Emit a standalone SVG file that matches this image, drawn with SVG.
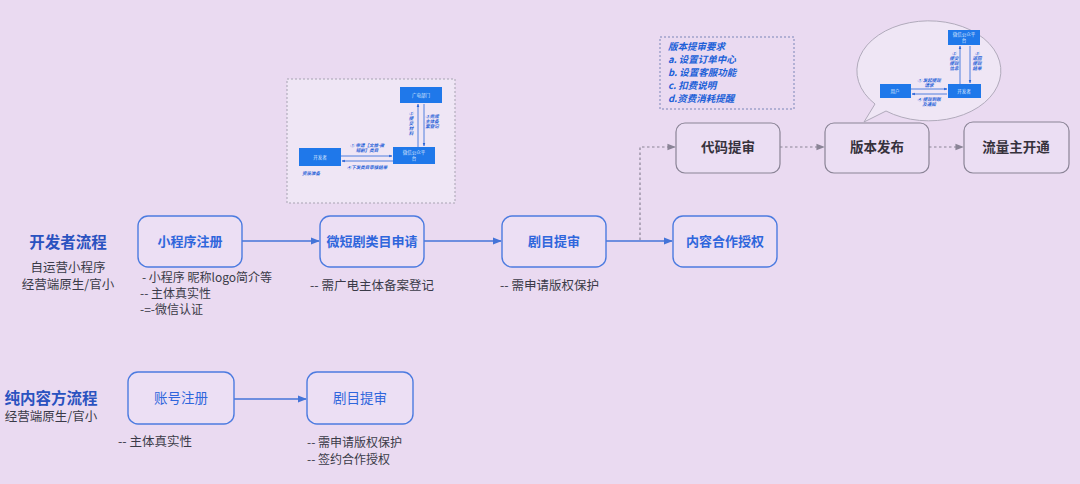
<svg xmlns="http://www.w3.org/2000/svg" width="1080" height="484" viewBox="0 0 1080 484">
<style>
.bg{fill:#eadaf1}
.bbox{fill:#ecdff4;stroke:#4c7be0;stroke-width:1.4}
.gbox{fill:#ebdef3;stroke:#8a8496;stroke-width:1.2}
.bt{font-family:"Noto Sans CJK SC","Noto Sans",sans-serif;font-size:13px;font-weight:700;fill:#2f66dc;text-anchor:middle}
.bt2{font-family:"Noto Sans CJK SC","Noto Sans",sans-serif;font-size:13.5px;fill:#2f66dc;text-anchor:middle}
.gt{font-family:"Noto Sans CJK SC","Noto Sans",sans-serif;font-size:13.5px;font-weight:700;fill:#36323c;text-anchor:middle}
.note{font-family:"Noto Sans CJK SC","Noto Sans",sans-serif;font-size:12.5px;fill:#3a3a48}
.note2{font-family:"Noto Sans CJK SC","Noto Sans",sans-serif;font-size:12px;fill:#3a3a48}
.title{font-family:"Noto Sans CJK SC","Noto Sans",sans-serif;font-size:15.5px;font-weight:700;fill:#2a52c0;text-anchor:middle}
.sub{font-family:"Noto Sans CJK SC","Noto Sans",sans-serif;font-size:12.5px;fill:#3a3a48;text-anchor:middle}
.line{stroke:#4474d8;stroke-width:1.3;fill:none}
.dline{stroke:#8a8496;stroke-width:1.2;stroke-dasharray:2.5 2.5;fill:none}
.ibox{fill:#1f78ea}
.it{font-family:"Noto Sans CJK SC","Noto Sans",sans-serif;font-size:4.5px;fill:#dfe9ff;text-anchor:middle}
.il{font-family:"Noto Sans CJK SC","Noto Sans",sans-serif;font-size:4.5px;font-weight:700;font-style:italic;fill:#2a64d8;text-anchor:middle}
.iline{stroke:#2a64d8;stroke-width:0.8;fill:none}
.req{font-family:"Noto Sans CJK SC","Noto Sans",sans-serif;font-size:9.5px;font-weight:700;font-style:italic;fill:#2060d8}
</style>
<defs>
<marker id="ab" viewBox="0 0 10 10" refX="9" refY="5" markerWidth="7" markerHeight="7" orient="auto"><path d="M0,1 L10,5 L0,9 Z" fill="#4474d8"/></marker>
<marker id="ag" viewBox="0 0 10 10" refX="9" refY="5" markerWidth="7" markerHeight="7" orient="auto"><path d="M0,1 L10,5 L0,9 Z" fill="#8a8496"/></marker>
<marker id="ai" viewBox="0 0 10 10" refX="9" refY="5" markerWidth="4" markerHeight="4" orient="auto"><path d="M0,1 L10,5 L0,9 Z" fill="#2a64d8"/></marker>
</defs>
<rect class="bg" x="0" y="0" width="1080" height="484"/>

<g id="labels">
<text class="title" x="68" y="248">开发者流程</text>
<text class="sub" x="68" y="272">自运营小程序</text>
<text class="sub" x="68" y="289">经营端原生/官小</text>
<text class="title" x="51" y="404">纯内容方流程</text>
<text class="sub" x="51" y="421">经营端原生/官小</text>
</g>

<g id="connectors">
<line class="line" x1="242" y1="241" x2="319" y2="241" marker-end="url(#ab)"/>
<line class="line" x1="424" y1="241" x2="501" y2="241" marker-end="url(#ab)"/>
<line class="line" x1="606" y1="241" x2="672" y2="241" marker-end="url(#ab)"/>
<polyline class="dline" points="640,240 640,147 675,147" marker-end="url(#ag)"/>
<line class="dline" x1="780" y1="147" x2="824" y2="147" marker-end="url(#ag)"/>
<line class="dline" x1="929" y1="147" x2="963" y2="147" marker-end="url(#ag)"/>
<line class="line" x1="234" y1="399" x2="306" y2="399" marker-end="url(#ab)"/>
</g>

<g id="n-miniapp"><rect class="bbox" x="138" y="216" width="104" height="51" rx="10"/><text class="bt" x="190" y="246">小程序注册</text>
<text class="note2" x="142" y="282">- 小程序 昵称logo简介等</text><text class="note2" x="140" y="298">-- 主体真实性</text><text class="note2" x="140" y="314">-=-微信认证</text></g>
<g id="n-category"><rect class="bbox" x="320" y="216" width="104" height="51" rx="10"/><text class="bt" x="372" y="246">微短剧类目申请</text>
<text class="note" x="310" y="290">-- 需广电主体备案登记</text></g>
<g id="n-review"><rect class="bbox" x="502" y="216" width="104" height="51" rx="10"/><text class="bt" x="554" y="246">剧目提审</text>
<text class="note" x="500" y="290">-- 需申请版权保护</text></g>
<g id="n-auth"><rect class="bbox" x="673" y="216" width="104" height="51" rx="10"/><text class="bt" x="725" y="246">内容合作授权</text></g>
<g id="n-code"><rect class="gbox" x="676" y="123" width="104" height="50" rx="9"/><text class="gt" x="728" y="152">代码提审</text></g>
<g id="n-release"><rect class="gbox" x="825" y="123" width="104" height="50" rx="9"/><text class="gt" x="877" y="152">版本发布</text></g>
<g id="n-traffic"><rect class="gbox" x="964" y="122" width="105" height="51" rx="9"/><text class="gt" x="1016" y="152">流量主开通</text></g>

<g id="n-account"><rect class="bbox" x="128" y="372" width="106" height="52" rx="10"/><text class="bt2" x="181" y="403">账号注册</text>
<text class="note" x="118" y="446">-- 主体真实性</text></g>
<g id="n-review2"><rect class="bbox" x="307" y="372" width="106" height="52" rx="10"/><text class="bt2" x="360" y="403">剧目提审</text>
<text class="note2" x="307" y="447">-- 需申请版权保护</text><text class="note2" x="307" y="464">-- 签约合作授权</text></g>

<g id="n-inset1">
<rect x="287" y="79" width="168" height="124" fill="#efe6f5" stroke="#a7a3b2" stroke-width="1" stroke-dasharray="2 2"/>
<rect class="ibox" x="299" y="148" width="42" height="18"/><text class="it" x="320" y="159">开发者</text>
<rect class="ibox" x="393" y="147" width="42" height="17"/><text class="it" x="414" y="154">微信公众平</text><text class="it" x="414" y="160">台</text>
<rect class="ibox" x="400" y="87" width="42" height="16"/><text class="it" x="421" y="97">广电部门</text>
<line class="iline" x1="341" y1="156" x2="392" y2="156" marker-end="url(#ai)"/>
<line class="iline" x1="393" y1="161" x2="342" y2="161" marker-end="url(#ai)"/>
<line class="iline" x1="418" y1="147" x2="418" y2="104" marker-end="url(#ai)"/>
<line class="iline" x1="424" y1="104" x2="424" y2="146" marker-end="url(#ai)"/>
<text class="il" x="367" y="147">① 申请【文旅-微</text><text class="il" x="367" y="152">短剧】类目</text>
<text class="il" x="367" y="169">④下发类目审核结果</text>
<text class="il" x="411" y="115">②</text><text class="il" x="411" y="120">提</text><text class="il" x="411" y="125">交</text><text class="il" x="411" y="130">材</text><text class="il" x="411" y="135">料</text>
<text class="il" x="432" y="118">③完成</text><text class="il" x="432" y="123">主体备</text><text class="il" x="432" y="128">案登记</text>
<text class="il" x="311" y="175">资质准备</text>
</g>

<g id="n-requirements">
<rect x="660" y="37" width="134" height="72" fill="none" stroke="#7a86b8" stroke-width="1" stroke-dasharray="2 2"/>
<text class="req" x="668" y="50">版本提审要求</text>
<text class="req" x="668" y="63">a. 设置订单中心</text>
<text class="req" x="668" y="76">b. 设置客服功能</text>
<text class="req" x="668" y="89">c. 扣费说明</text>
<text class="req" x="668" y="102">d.资费消耗提醒</text>
</g>

<g id="n-inset2">
<path d="M864,122 L875,104 A72,50 0 1 1 886,111 Z" fill="#efe6f5" stroke="#a9a4b4" stroke-width="0.9"/>
<rect class="ibox" x="948" y="30" width="32" height="15"/><text class="it" x="964" y="36">微信公众平</text><text class="it" x="964" y="42">台</text>
<rect class="ibox" x="880" y="84" width="31" height="14"/><text class="it" x="895" y="93">用户</text>
<rect class="ibox" x="948" y="84" width="33" height="14"/><text class="it" x="964" y="93">开发者</text>
<line class="iline" x1="911" y1="89" x2="947" y2="89" marker-end="url(#ai)"/>
<line class="iline" x1="947" y1="94" x2="912" y2="94" marker-end="url(#ai)"/>
<line class="iline" x1="960" y1="84" x2="960" y2="46" marker-end="url(#ai)"/>
<line class="iline" x1="970" y1="46" x2="970" y2="83" marker-end="url(#ai)"/>
<text class="il" x="929" y="82">① 发起提现</text><text class="il" x="929" y="87">请求</text>
<text class="il" x="929" y="101">④ 提现到账</text><text class="il" x="929" y="106">及通知</text>
<text class="il" x="954" y="55">②</text><text class="il" x="954" y="60">提交</text><text class="il" x="954" y="65">提现</text><text class="il" x="954" y="70">信息</text>
<text class="il" x="977" y="55">③</text><text class="il" x="977" y="60">返回</text><text class="il" x="977" y="65">提现</text><text class="il" x="977" y="70">结果</text>
</g>
</svg>
